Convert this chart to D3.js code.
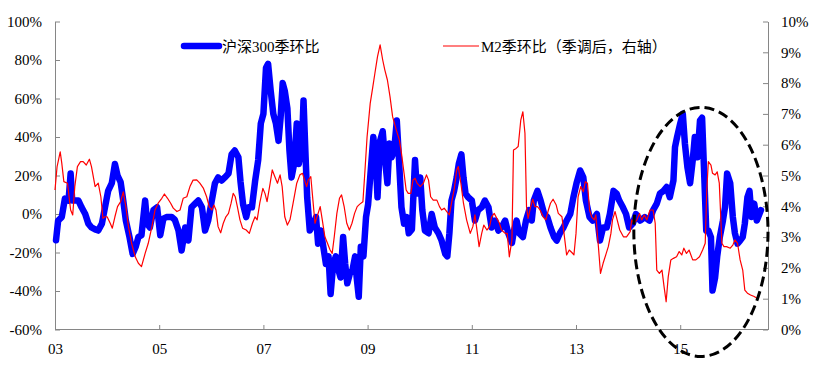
<!DOCTYPE html>
<html><head><meta charset="utf-8">
<script src="https://cdn.jsdelivr.net/npm/d3@7"></script>
<style>
body{margin:0;background:#fff}
svg{display:block}
text{font-family:"Liberation Serif","Times New Roman","Noto Sans CJK SC",serif;font-size:15px;fill:#000}
</style>
</head><body>
<svg id="c" width="817" height="366"></svg>
<script>
// ---- data ----
const seriesNames = ["沪深300季环比", "M2季环比（季调后，右轴）"];
const xTickYears = [2003, 2005, 2007, 2009, 2011, 2013, 2015];
const xTickLabels = ["03", "05", "07", "09", "11", "13", "15"];
const leftTicks = [-60, -40, -20, 0, 20, 40, 60, 80, 100];
const rightTicks = [0, 1, 2, 3, 4, 5, 6, 7, 8, 9, 10];

// [year, HS300 quarter-on-quarter %]
const hs300 = [
[2003.02,-13.6],[2003.06,-3.4],[2003.13,-1.6],[2003.19,8],[2003.26,7],[2003.30,21],[2003.33,7],[2003.38,7],[2003.45,7],[2003.51,3.5],
[2003.58,0],[2003.64,-5],[2003.70,-7],[2003.77,-8],[2003.83,-8.6],[2003.90,-5],[2003.96,3.5],[2004.02,12],[2004.09,16],[2004.15,26],
[2004.20,20],[2004.26,16.5],[2004.31,7],[2004.36,-3.4],[2004.43,-12],[2004.49,-20.7],[2004.55,-17],[2004.60,-12],[2004.66,-11],[2004.73,7],
[2004.77,-5],[2004.82,-7],[2004.89,2],[2004.96,3.5],[2005.02,-11],[2005.08,-2.4],[2005.14,-1.6],[2005.24,-1.6],[2005.30,-3],[2005.37,-8.6],
[2005.43,-19],[2005.50,-7],[2005.56,-13.8],[2005.62,3.5],[2005.69,5.4],[2005.75,7],[2005.82,3.5],[2005.88,-8.6],[2005.94,-3.4],[2006.01,7],
[2006.07,16],[2006.13,19],[2006.20,17.4],[2006.26,19],[2006.33,21],[2006.39,31],[2006.45,33],[2006.52,29.5],[2006.56,17],[2006.61,5],
[2006.67,-1.6],[2006.71,3.5],[2006.78,3.5],[2006.84,17],[2006.90,28],[2006.95,47],[2007.00,52],[2007.05,76],[2007.09,78],[2007.14,64],
[2007.19,52],[2007.24,47],[2007.29,38],[2007.33,50],[2007.37,68],[2007.41,64],[2007.46,55],[2007.50,33],[2007.54,19],[2007.59,26],
[2007.64,47],[2007.68,26],[2007.74,36.6],[2007.77,59],[2007.81,29.5],[2007.84,8.7],[2007.89,-8.6],[2007.96,-5],[2008.01,-1.6],[2008.05,-15.4],
[2008.10,-8.6],[2008.15,-17],[2008.20,-26],[2008.25,-22],[2008.29,-41.5],[2008.34,-26],[2008.39,-22],[2008.44,-29],[2008.48,-33],[2008.53,-12],
[2008.57,-26],[2008.61,-36],[2008.66,-31],[2008.71,-29],[2008.76,-22],[2008.79,-33],[2008.83,-43],[2008.87,-17],[2008.92,-22],[2008.97,-1.6],
[2009.01,5],[2009.06,22.6],[2009.11,40],[2009.16,26],[2009.19,8.7],[2009.24,38],[2009.29,43],[2009.33,29.5],[2009.38,16],[2009.42,36.6],
[2009.46,29.5],[2009.51,33],[2009.56,48.6],[2009.60,29.5],[2009.65,3.5],[2009.70,-5],[2009.75,-1.6],[2009.79,-10],[2009.85,-8],[2009.91,28],
[2009.95,10.6],[2010.01,19],[2010.05,2],[2010.10,-8.6],[2010.17,-10],[2010.23,0],[2010.29,-7],[2010.36,-10],[2010.42,-13.8],[2010.49,-20.7],
[2010.53,-22],[2010.57,-10],[2010.61,7],[2010.66,12],[2010.71,19],[2010.75,26],[2010.80,31],[2010.84,19],[2010.88,10.6],[2010.93,8.7],
[2011.00,7],[2011.06,-3.4],[2011.12,2],[2011.19,3.5],[2011.25,7],[2011.32,3.5],[2011.38,-7],[2011.45,-3.4],[2011.51,-8.6],[2011.57,-7],
[2011.64,-3.4],[2011.70,-10],[2011.77,-15],[2011.81,-8.6],[2011.86,-3.4],[2011.91,-10],[2011.98,-12],[2012.04,-3.4],[2012.10,2],[2012.15,-3.4],
[2012.19,7],[2012.26,12],[2012.32,7],[2012.39,0],[2012.45,-1.6],[2012.51,-7],[2012.58,-12],[2012.63,-13.8],[2012.69,-10],[2012.76,-7],
[2012.82,-3.4],[2012.89,0],[2012.95,8.7],[2013.01,16],[2013.08,22.6],[2013.14,19],[2013.19,7],[2013.26,-1.6],[2013.32,-3.4],[2013.40,0],
[2013.46,-13.8],[2013.52,-7],[2013.59,-7],[2013.65,0],[2013.72,12],[2013.78,10.6],[2013.83,7],[2013.90,3.5],[2013.96,0],[2014.02,-7],
[2014.09,-5],[2014.15,0],[2014.23,-3.4],[2014.32,-1.6],[2014.41,-3.4],[2014.48,2],[2014.55,5.4],[2014.61,10.6],[2014.68,12],[2014.74,14],
[2014.80,8.7],[2014.87,17.4],[2014.90,34.7],[2014.94,40],[2015.00,47],[2015.05,52],[2015.09,36.6],[2015.14,24],[2015.19,16],[2015.24,27.8],
[2015.28,40],[2015.33,29.5],[2015.38,48.6],[2015.42,50],[2015.46,21],[2015.50,-8.6],[2015.54,-8.6],[2015.59,-12],[2015.62,-39.8],[2015.67,-33],
[2015.71,-22],[2015.76,-12],[2015.82,-3.4],[2015.86,3.5],[2015.90,21],[2015.96,16],[2016.01,-1.6],[2016.05,-10],[2016.10,-15.4],[2016.15,-13.8],
[2016.20,-12],[2016.24,-5],[2016.29,8.7],[2016.33,12],[2016.37,-1.6],[2016.42,5.4],[2016.47,-3.4],[2016.52,0],[2016.55,2]
];

// [year, M2 quarter-on-quarter % (seasonally adjusted), right axis]
const m2 = [
[2003.00,4.53],[2003.04,5.29],[2003.10,5.77],[2003.13,5.40],[2003.17,4.80],[2003.24,4.75],[2003.27,4.31],[2003.30,3.88],[2003.34,3.72],[2003.38,4.64],
[2003.43,5.29],[2003.49,5.45],[2003.54,5.45],[2003.60,5.34],[2003.66,5.53],[2003.70,5.29],[2003.77,4.64],[2003.83,4.75],[2003.88,4.31],[2003.92,3.61],
[2003.96,3.66],[2004.00,3.66],[2004.06,3.45],[2004.10,3.29],[2004.15,3.66],[2004.20,3.99],[2004.26,4.15],[2004.31,4.47],[2004.36,3.99],[2004.41,3.34],
[2004.47,2.80],[2004.54,2.36],[2004.60,2.15],[2004.66,2.04],[2004.73,2.47],[2004.79,2.80],[2004.86,3.34],[2004.92,3.88],[2004.98,4.10],[2005.05,4.26],
[2005.10,4.40],[2005.16,4.26],[2005.22,4.10],[2005.27,3.94],[2005.34,3.83],[2005.40,3.88],[2005.46,4.26],[2005.53,4.31],[2005.59,4.64],[2005.65,4.85],
[2005.72,4.86],[2005.78,4.75],[2005.85,4.58],[2005.91,4.31],[2005.96,3.99],[2006.01,3.88],[2006.05,4.04],[2006.09,3.88],[2006.13,3.34],[2006.18,3.14],
[2006.23,3.45],[2006.28,3.66],[2006.33,3.77],[2006.38,4.10],[2006.42,4.42],[2006.46,4.31],[2006.50,3.99],[2006.55,3.56],[2006.60,3.29],[2006.67,3.23],
[2006.73,3.12],[2006.79,3.45],[2006.84,3.66],[2006.88,3.56],[2006.93,4.10],[2006.99,4.58],[2007.03,4.42],[2007.07,4.15],[2007.13,4.75],[2007.17,5.18],
[2007.22,4.96],[2007.27,4.75],[2007.32,5.02],[2007.36,4.64],[2007.41,3.66],[2007.46,3.39],[2007.51,3.56],[2007.57,4.10],[2007.64,4.75],[2007.70,5.02],
[2007.75,5.07],[2007.80,4.80],[2007.83,4.64],[2007.86,4.85],[2007.91,4.96],[2007.95,4.20],[2007.99,3.45],[2008.03,3.66],[2008.09,3.99],[2008.13,3.56],
[2008.18,3.01],[2008.23,2.80],[2008.28,2.58],[2008.32,2.47],[2008.36,3.01],[2008.41,3.77],[2008.46,4.26],[2008.50,4.37],[2008.55,3.99],[2008.60,3.45],
[2008.65,3.23],[2008.70,3.45],[2008.75,3.77],[2008.80,3.99],[2008.85,4.07],[2008.91,4.15],[2008.95,5.18],[2008.99,6.26],[2009.05,7.34],[2009.10,7.88],
[2009.14,8.32],[2009.19,8.86],[2009.24,9.24],[2009.29,8.75],[2009.33,8.43],[2009.38,8.10],[2009.43,7.56],[2009.48,6.91],[2009.55,6.48],[2009.61,6.15],
[2009.65,5.72],[2009.70,5.07],[2009.74,4.53],[2009.78,4.42],[2009.83,4.42],[2009.87,4.85],[2009.91,4.91],[2009.95,4.75],[2010.01,4.64],[2010.07,4.75],
[2010.13,5.02],[2010.17,4.85],[2010.21,4.31],[2010.26,4.20],[2010.33,4.20],[2010.38,3.99],[2010.42,3.88],[2010.47,3.94],[2010.52,3.83],[2010.57,3.72],
[2010.61,4.10],[2010.66,4.53],[2010.71,5.18],[2010.74,5.29],[2010.79,4.75],[2010.84,4.10],[2010.90,3.56],[2010.97,3.12],[2011.02,3.34],[2011.06,3.72],
[2011.09,3.34],[2011.14,2.69],[2011.19,3.12],[2011.23,3.39],[2011.29,3.23],[2011.34,3.34],[2011.38,3.66],[2011.43,3.77],[2011.48,3.61],[2011.53,3.45],
[2011.57,3.23],[2011.64,3.12],[2011.68,3.12],[2011.72,2.36],[2011.77,2.91],[2011.80,5.83],[2011.85,5.88],[2011.89,5.94],[2011.94,6.80],[2011.98,7.07],
[2012.02,6.37],[2012.05,3.99],[2012.08,3.61],[2012.13,3.99],[2012.17,4.23],[2012.21,3.99],[2012.26,3.99],[2012.31,3.88],[2012.37,3.66],[2012.42,3.56],
[2012.47,3.88],[2012.51,4.10],[2012.56,4.23],[2012.62,4.04],[2012.66,3.77],[2012.73,3.66],[2012.77,3.12],[2012.82,2.42],[2012.87,2.58],[2012.92,2.50],
[2012.96,2.42],[2013.00,3.12],[2013.04,4.31],[2013.09,4.64],[2013.14,4.47],[2013.18,4.80],[2013.22,4.75],[2013.26,3.88],[2013.30,3.66],[2013.35,3.56],
[2013.38,3.72],[2013.43,2.69],[2013.47,1.82],[2013.52,2.15],[2013.58,2.47],[2013.62,2.69],[2013.67,3.12],[2013.70,3.56],[2013.75,3.83],[2013.79,3.56],
[2013.84,3.23],[2013.91,3.01],[2013.97,3.01],[2014.04,3.18],[2014.07,3.56],[2014.11,3.45],[2014.17,3.56],[2014.22,3.77],[2014.26,3.56],[2014.31,3.72],
[2014.36,3.56],[2014.42,3.88],[2014.48,3.88],[2014.52,3.45],[2014.55,1.93],[2014.60,1.82],[2014.65,1.93],[2014.69,1.39],[2014.73,0.90],[2014.77,1.71],
[2014.82,2.26],[2014.87,2.31],[2014.93,2.36],[2014.98,2.53],[2015.03,2.42],[2015.07,2.64],[2015.12,2.47],[2015.17,2.58],[2015.24,2.26],[2015.30,2.26],
[2015.37,2.36],[2015.43,2.58],[2015.48,2.80],[2015.51,4.53],[2015.54,5.45],[2015.59,5.34],[2015.62,5.07],[2015.67,5.02],[2015.71,5.12],[2015.75,4.75],
[2015.80,2.80],[2015.84,2.69],[2015.89,2.69],[2015.96,2.64],[2016.01,2.74],[2016.05,2.91],[2016.10,2.80],[2016.15,2.26],[2016.20,1.93],[2016.24,1.28],
[2016.29,1.18],[2016.35,1.12],[2016.42,1.07],[2016.48,1.01]
];

// highlighted region (dashed ellipse): [yearFrom, yearTo, leftAxisLow%, leftAxisHigh%]
const highlight = [2014.11, 2016.685, -74, 55.4];

// ---- layout ----
const svg = d3.select("#c");
const x = d3.scaleLinear().domain([2003, 2016.685]).range([55, 768]);
const yL = d3.scaleLinear().domain([-60, 100]).range([329.5, 21.5]);
const yR = d3.scaleLinear().domain([0, 10]).range([329.5, 21.5]);
const axisColor = "#868686";

function styleAxis(g) {
  g.selectAll(".domain").attr("stroke", axisColor);
  g.selectAll(".tick line").attr("stroke", axisColor);
  g.selectAll("text").attr("fill", "#000").style("font-size", "15px")
   .style("font-family", '"Liberation Serif","Times New Roman",serif');
}

svg.append("g").attr("transform", "translate(55,0)")
  .call(d3.axisLeft(yL).tickValues(leftTicks).tickSizeInner(-5).tickSizeOuter(0).tickPadding(13).tickFormat(d => d + "%"))
  .call(styleAxis);

svg.append("g").attr("transform", "translate(768,0)")
  .call(d3.axisRight(yR).tickValues(rightTicks).tickSizeInner(-5).tickSizeOuter(0).tickPadding(13).tickFormat(d => d + "%"))
  .call(styleAxis);

svg.append("g").attr("transform", "translate(0,329)")
  .call(d3.axisBottom(x).tickValues(xTickYears).tickSizeInner(-4).tickSizeOuter(0).tickPadding(14)
    .tickFormat((d, i) => xTickLabels[i]))
  .call(styleAxis);

// ---- series ----
const lineL = d3.line().x(d => x(d[0])).y(d => yL(d[1]));
const lineR = d3.line().x(d => x(d[0])).y(d => yR(d[1]));

svg.append("path").datum(hs300).attr("d", lineL)
  .attr("fill", "none").attr("stroke", "#0000ff").attr("stroke-width", 6.5)
  .attr("stroke-linejoin", "round").attr("stroke-linecap", "round");

svg.append("path").datum(m2).attr("d", lineR)
  .attr("fill", "none").attr("stroke", "#ff0000").attr("stroke-width", 1.2)
  .attr("stroke-linejoin", "round");

// ---- highlight ellipse ----
const ex0 = x(highlight[0]), ex1 = x(highlight[1]);
const ey0 = yL(highlight[3]), ey1 = yL(highlight[2]);
svg.append("ellipse")
  .attr("cx", (ex0 + ex1) / 2).attr("cy", (ey0 + ey1) / 2)
  .attr("rx", (ex1 - ex0) / 2).attr("ry", (ey1 - ey0) / 2)
  .attr("fill", "none").attr("stroke", "#000").attr("stroke-width", 3)
  .attr("stroke-dasharray", "10,5");

// ---- legend ----
const leg = svg.append("g");
leg.append("line").attr("x1", 184).attr("x2", 219).attr("y1", 46).attr("y2", 46)
  .attr("stroke", "#0000ff").attr("stroke-width", 6.5).attr("stroke-linecap", "round");
leg.append("text").attr("x", 222).attr("y", 51.5).text(seriesNames[0]);
leg.append("line").attr("x1", 443).attr("x2", 479).attr("y1", 46).attr("y2", 46)
  .attr("stroke", "#ff0000").attr("stroke-width", 1.2);
leg.append("text").attr("x", 481).attr("y", 51.5).text(seriesNames[1]);
</script>
</body></html>
